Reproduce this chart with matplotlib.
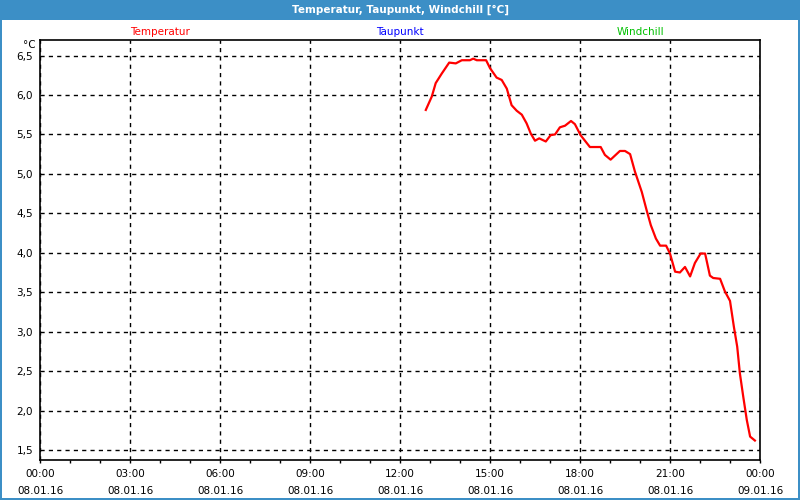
import matplotlib
matplotlib.use("Agg")
import matplotlib.pyplot as plt
from matplotlib.patches import Rectangle
from matplotlib.ticker import MultipleLocator, FixedLocator

# ---- data -------------------------------------------------------------
hours = [12.86, 13.06, 13.19, 13.39, 13.64, 13.86, 14.06, 14.33, 14.44, 14.56,
         14.87, 15.00, 15.22, 15.39, 15.56, 15.72, 15.89, 16.06, 16.22, 16.36,
         16.50, 16.64, 16.86, 17.02, 17.17, 17.33, 17.50, 17.70, 17.83, 18.02,
         18.33, 18.69, 18.83, 19.02, 19.33, 19.50, 19.67, 19.83, 20.06, 20.22,
         20.36, 20.53, 20.67, 20.87, 21.00, 21.17, 21.33, 21.50, 21.67, 21.83,
         22.02, 22.17, 22.33, 22.44, 22.67, 22.83, 23.00, 23.13, 23.24, 23.33,
         23.44, 23.56, 23.67, 23.83]
temperatur = [5.81, 5.98, 6.15, 6.27, 6.41, 6.40, 6.44, 6.44, 6.46, 6.44,
              6.44, 6.34, 6.22, 6.19, 6.08, 5.87, 5.80, 5.75, 5.64, 5.51,
              5.42, 5.45, 5.41, 5.49, 5.50, 5.59, 5.61, 5.67, 5.63, 5.49,
              5.34, 5.34, 5.24, 5.18, 5.29, 5.29, 5.25, 5.03, 4.77, 4.54,
              4.35, 4.18, 4.09, 4.09, 3.99, 3.76, 3.75, 3.82, 3.70, 3.87,
              3.99, 3.99, 3.71, 3.68, 3.67, 3.51, 3.39, 3.06, 2.81, 2.47,
              2.18, 1.88, 1.67, 1.62]

x_tick_hours = [0, 3, 6, 9, 12, 15, 18, 21, 24]
x_tick_labels = ["00:00\n08.01.16", "03:00\n08.01.16", "06:00\n08.01.16",
                 "09:00\n08.01.16", "12:00\n08.01.16", "15:00\n08.01.16",
                 "18:00\n08.01.16", "21:00\n08.01.16", "00:00\n09.01.16"]
y_ticks = [1.5, 2.0, 2.5, 3.0, 3.5, 4.0, 4.5, 5.0, 5.5, 6.0, 6.5]
y_tick_labels = ["1,5", "2,0", "2,5", "3,0", "3,5", "4,0", "4,5", "5,0", "5,5", "6,0", "6,5"]
series_names = ["Temperatur", "Taupunkt", "Windchill"]
series_colors = ["#ff0000", "#0000ff", "#00c000"]

title = "Temperatur, Taupunkt, Windchill [°C]"

# ---- figure -----------------------------------------------------------
W, H = 800, 500
fig = plt.figure(figsize=(8, 5), dpi=100, facecolor="white")
plt.rcParams['font.family'] = ['DejaVu Sans']

blue = "#3c8fc6"
# title bar
fig.patches.append(Rectangle((0, 1 - 20 / H), 1, 20 / H, transform=fig.transFigure,
                             facecolor=blue, edgecolor="none", zorder=0))
# window border
fig.patches.append(Rectangle((0, 0), 2 / W, 1, transform=fig.transFigure,
                             facecolor=blue, edgecolor="none"))
fig.patches.append(Rectangle((1 - 2 / W, 0), 2 / W, 1, transform=fig.transFigure,
                             facecolor=blue, edgecolor="none"))
fig.patches.append(Rectangle((0, 0), 1, 2 / H, transform=fig.transFigure,
                             facecolor=blue, edgecolor="none"))
fig.text(0.5, 1 - 10 / H, title, color="white", fontsize=7.5, fontweight="bold",
         ha="center", va="center")

ax = fig.add_axes([40 / W, 1 - 460 / H, 720 / W, 420 / H])
ax.plot(hours, temperatur, color="#ff0000", linewidth=1.6, solid_joinstyle="round")

ax.set_xlim(0, 24)
ax.set_ylim(1.5 - 10 / 78.9, 6.5 + 15.5 / 78.9)

ax.xaxis.set_major_locator(FixedLocator(x_tick_hours))
ax.set_xticklabels(x_tick_labels, fontsize=7.5, linespacing=1.9)
ax.xaxis.set_minor_locator(MultipleLocator(1))
ax.tick_params(axis="x", which="both", direction="out", length=2.5, width=1, pad=4)
ax.set_yticks(y_ticks)
ax.set_yticklabels(y_tick_labels, fontsize=7.5)
ax.tick_params(axis="y", length=0, pad=5)

ax.grid(True, which="major", color="black", linestyle=(0, (3, 3)), linewidth=1)
for s in ax.spines.values():
    s.set_color("black")
    s.set_linewidth(1.2)

fig.text(36 / W, 1 - 45 / H, "°C", fontsize=7.5, ha="right", va="center")
for i, (name, col) in enumerate(zip(series_names, series_colors)):
    fig.text((40 + 720 * (2 * i + 1) / 6) / W, 1 - 32 / H, name, color=col,
             fontsize=7.5, ha="center", va="center")

fig.savefig("out.png", dpi=100)
